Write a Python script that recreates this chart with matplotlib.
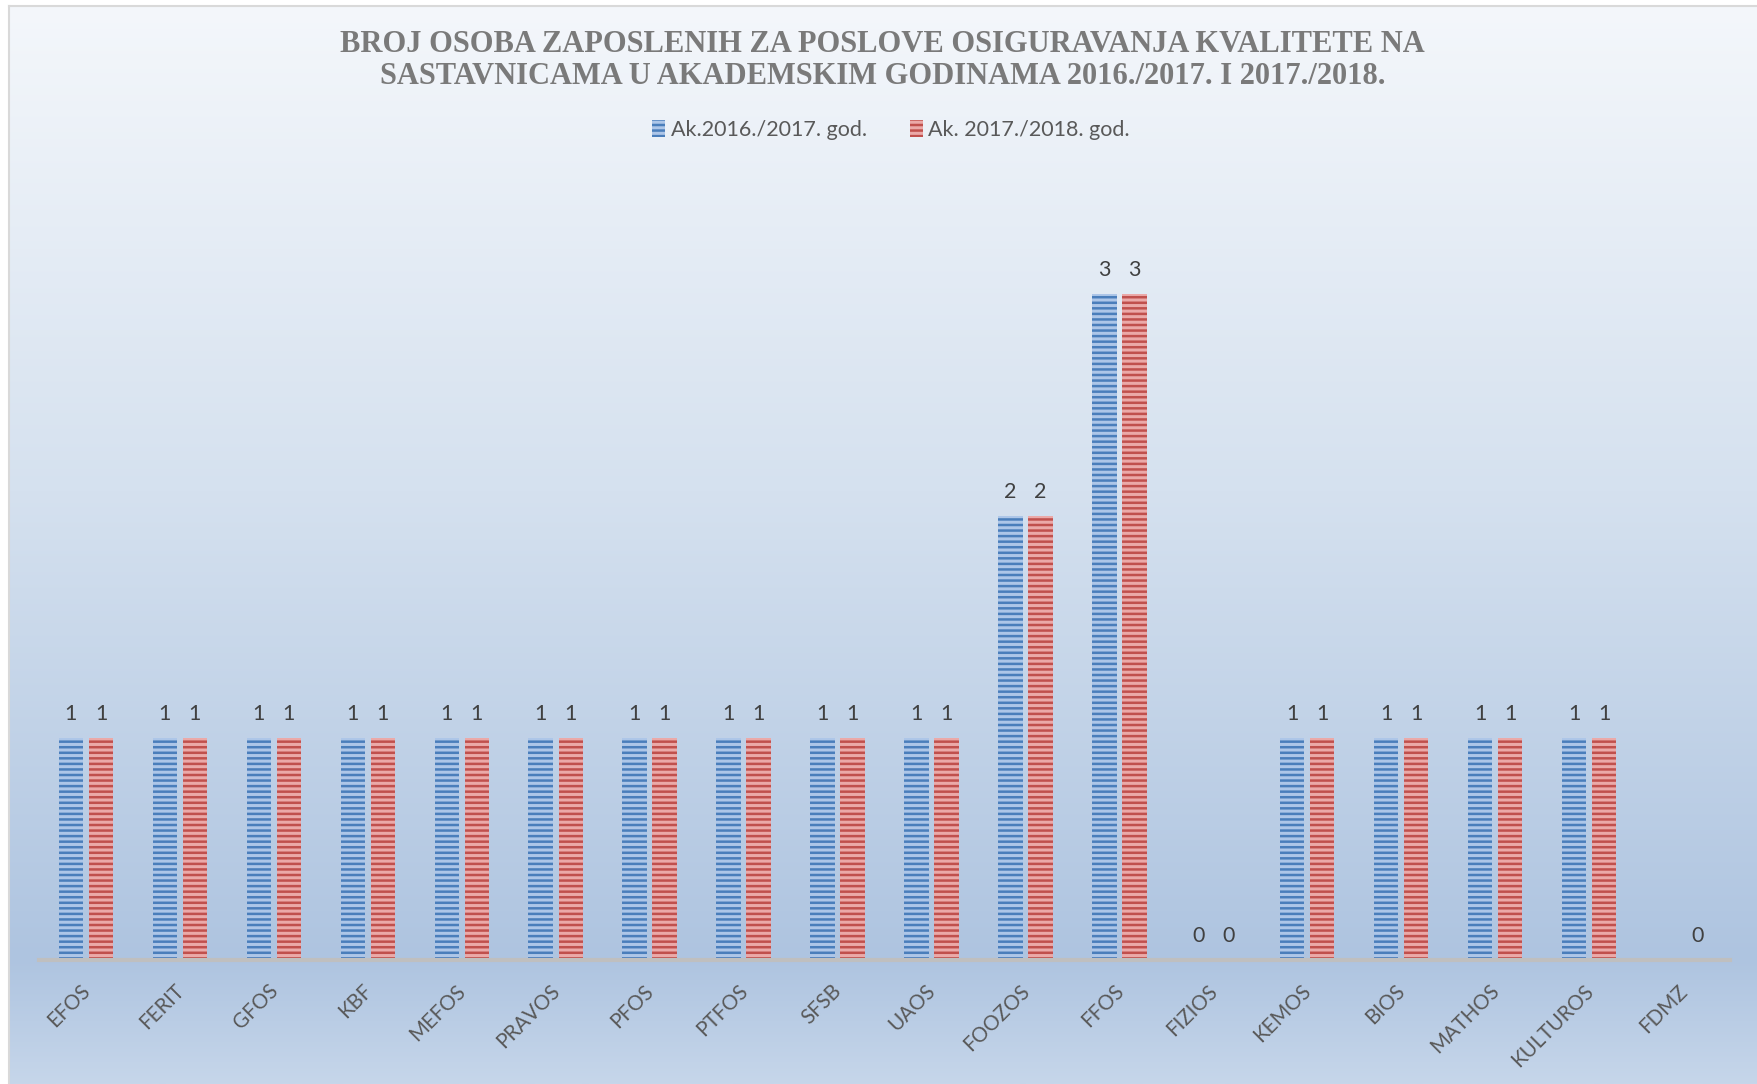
import numpy as np
import matplotlib
matplotlib.use("Agg")
import matplotlib.pyplot as plt
from matplotlib.colors import to_rgb
from matplotlib.lines import Line2D
import matplotlib.transforms as mtransforms

# ---- data ----
categories = ["EFOS", "FERIT", "GFOS", "KBF", "MEFOS", "PRAVOS", "PFOS", "PTFOS",
              "SFSB", "UAOS", "FOOZOS", "FFOS", "FIZIOS", "KEMOS", "BIOS",
              "MATHOS", "KULTUROS", "FDMZ"]
series_2016 = [1, 1, 1, 1, 1, 1, 1, 1, 1, 1, 2, 3, 0, 1, 1, 1, 1, np.nan]
series_2017 = [1, 1, 1, 1, 1, 1, 1, 1, 1, 1, 2, 3, 0, 1, 1, 1, 1, 0]
series_names = ["Ak.2016./2017. god.", "Ak. 2017./2018. god."]
title_lines = ["BROJ OSOBA ZAPOSLENIH ZA POSLOVE OSIGURAVANJA KVALITETE NA",
               "SASTAVNICAMA U AKADEMSKIM GODINAMA 2016./2017. I 2017./2018."]

W, H = 1758, 1084
DPI = 100
plt.rcParams['hatch.linewidth'] = 1.8
plt.rcParams['font.family'] = ['Lato', 'DejaVu Sans']

fig = plt.figure(figsize=(W / DPI, H / DPI), dpi=DPI, facecolor='white')

# ---- background gradient ----
bg = fig.add_axes([9 / W, 0, 1 - 9 / W, 1 - 6 / H], zorder=-10)
bg.set_axis_off()
stops_y = np.array([0.0, 0.45, 0.885, 1.0])  # fraction from top of bg area
stops_c = np.array([to_rgb('#f4f7fb'), to_rgb('#d5e1ef'), to_rgb('#aec4e0'), to_rgb('#c6d6ea')])
n = 600
yy = np.linspace(0, 1, n)
grad = np.stack([np.interp(yy, stops_y, stops_c[:, k]) for k in range(3)], axis=-1)
bg.imshow(grad[:, None, :], aspect='auto', extent=[0, 1, 1, 0], interpolation='bilinear')
bg.set_xlim(0, 1)
bg.set_ylim(1, 0)

# border lines
fig.add_artist(Line2D([9 / W, 9 / W], [0, 1 - 6 / H], color='#d9d9d9', lw=1.5, transform=fig.transFigure))
fig.add_artist(Line2D([9 / W, 1], [1 - 6 / H, 1 - 6 / H], color='#d9d9d9', lw=1.5, transform=fig.transFigure))

# ---- main axes ----
ax_left, ax_right = 39 / W, 1730 / W
ax_bottom = (H - 960) / H
ymax = 3.6
ax_h = (ymax * 222) / H
ax = fig.add_axes([ax_left, ax_bottom, ax_right - ax_left, ax_h])
ax.patch.set_alpha(0)

x = np.arange(len(categories))
bw = 0.26
off = 0.16
b1 = ax.bar(x - off, series_2016, bw, facecolor='#adc6e8', edgecolor='#4a7ebb',
            hatch='---', linewidth=0, label=series_names[0], zorder=3)
b2 = ax.bar(x + off, series_2017, bw, facecolor='#eba9a8', edgecolor='#c0504d',
            hatch='---', linewidth=0, label=series_names[1], zorder=3)

lab1 = ['' if np.isnan(v) else f'{int(v)}' for v in series_2016]
lab2 = ['' if np.isnan(v) else f'{int(v)}' for v in series_2017]
ax.bar_label(b1, labels=lab1, padding=10, fontsize=15.5, color='#404040')
ax.bar_label(b2, labels=lab2, padding=10, fontsize=15.5, color='#404040')

ax.set_xlim(-0.5, len(categories) - 0.5)
ax.set_ylim(0, ymax)
ax.set_yticks([])
for s in ['top', 'right', 'left']:
    ax.spines[s].set_visible(False)
ax.spines['bottom'].set_color('#bfbfbf')
ax.spines['bottom'].set_linewidth(3)
ax.spines['bottom'].set_zorder(4)

ax.set_xticks(x)
ax.set_xticklabels(categories, rotation=45, ha='right', fontsize=14.8, color='#595959')
ax.tick_params(axis='x', length=0, pad=15)
shift = mtransforms.ScaledTranslation(8 / DPI, 0, fig.dpi_scale_trans)
for t in ax.get_xticklabels():
    t.set_transform(t.get_transform() + shift)

# ---- title ----
for i, line in enumerate(title_lines):
    fig.text(0.502, 1 - (44.5 + 32.5 * i) / H, line, ha='center', va='center', fontsize=22,
             fontweight='bold', color='#7a7a7a', family=['Liberation Serif', 'DejaVu Serif'])

# ---- legend ----
leg = fig.legend(handles=[b1, b2], labels=series_names, loc='center',
                 bbox_to_anchor=(891 / W, 1 - 130 / H), ncol=2, frameon=False,
                 fontsize=15.5, handlelength=0.6, handleheight=0.8, handletextpad=0.25,
                 columnspacing=2.0)
for t in leg.get_texts():
    t.set_color('#595959')

fig.savefig('out.png', dpi=DPI, facecolor='white')
